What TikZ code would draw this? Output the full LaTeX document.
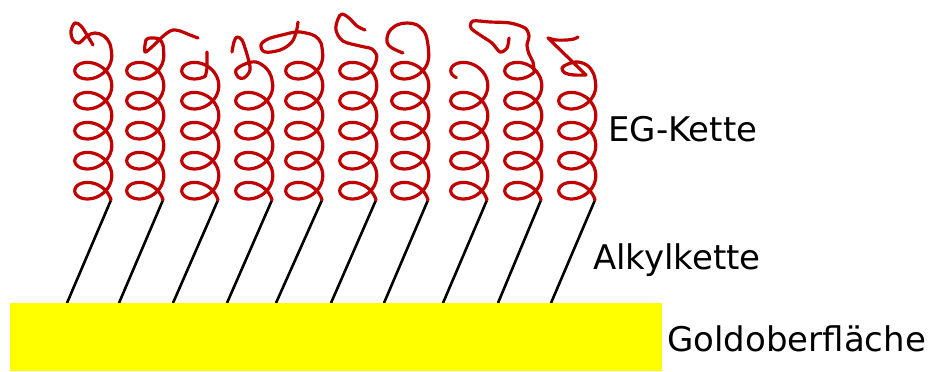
\documentclass[tikz,border=0pt]{standalone}
\usepackage{fontspec}
\setmainfont{DejaVu Sans}
\usepackage{tikz}
\usetikzlibrary{calc}
\usepackage{xcolor}
\def\pxLen{0.3mm}
\def\coilRad{18.5}
\def\coilDepth{15}
\def\coilPitch{4.775}
\def\coilStart{3.433}
\def\fScale{\fontsize{29}{34}\selectfont}
\definecolor{egred}{RGB}{192,0,0}
\definecolor{gold}{RGB}{255,255,0}
\tikzset{eg/.style={egred,line width=3.2*\pxLen,line cap=round,line join=round}}
\tikzset{alkyl/.style={black,line width=2.6*\pxLen}}
\tikzset{surf/.style={fill=gold,draw=none}}
\tikzset{lbl/.style={anchor=base west,inner sep=0,font=\fScale}}
\begin{document}
\begin{tikzpicture}[x=\pxLen,y=-\pxLen,
  declare function={coilx(\a,\t)=\a-\coilRad*cos(\t r)+\coilRad*cos(\coilStart r);
                    coily(\t)=200-\coilPitch*(\t-\coilStart)+\coilDepth*(sin(\t r)-sin(\coilStart r));}]
\useasboundingbox (0,0) rectangle (928,372);
% alkyl chains and EG helices
\foreach\i/\xb/\xt/\te in {1/67/111/34.5575,2/119/163/34.5575,3/173/218/33.2659,4/227/272/28.2743,5/276/322/34.5575,6/331/376/34.5575,7/384/428/34.5575,8/443/487/32.2159,9/498/541/33.6159,10/551/595/28.2743}{
  \coordinate (a\i) at (\xb,303);
  \coordinate (b\i) at (\xt,200);
  \draw[alkyl] (a\i)--(b\i);
  \draw[eg] plot[domain=\coilStart:\te,samples=300,smooth,variable=\t] ({coilx(\xt,\t)},{coily(\t)});
  \coordinate (c\i) at ({coilx(\xt,\te)},{coily(\te)});
}
% loose ends on top
\draw[eg] plot[smooth,tension=0.6] coordinates {(c1) (110,44) (104,36) (95,33) (87,36) (79,43) (73,40) (71,31) (75,23) (81,26) (87,35) (93,45)};
\draw[eg] plot[smooth,tension=0.5] coordinates {(c2) (163,45) (159,39) (151,38) (146,40) (145,52) (153,46) (160,39) (167,33) (173,30) (180,31) (190,35) (198,38)};
\draw[eg] plot[smooth,tension=0.5] coordinates {(c3) (207,68) (207,60) (207,52)};
\draw[eg] plot[smooth,tension=0.6] coordinates {(c4) (271,76) (266,68) (256,62) (245,64) (236,70) (238,77) (244,78) (250,70) (248,58) (245,48) (242,40) (237,37) (234,42) (232,52)};
\draw[eg] plot[smooth,tension=0.6] coordinates {(c5) (321,43) (315,36) (306,33) (296,32) (282,35) (268,39) (261,45) (265,52) (280,50) (291,43) (296,33) (298,22)};
\draw[eg] plot[smooth,tension=0.6] coordinates {(c6) (372,49) (360,46) (343,41) (336,30) (338,19) (342,14) (349,18) (357,26) (365,30)};
\draw[eg] plot[smooth,tension=0.6] coordinates {(c7) (428,45) (425,33) (417,25) (407,23) (397,25) (389,32) (387,42) (392,48) (403,53)};
\draw[eg] plot[smooth,tension=0.5] coordinates {(c9) (533,62) (529,54) (527,45) (529,36) (525,28) (510,23) (490,22) (473,21) (471,28) (480,35) (492,43) (500,52) (507,48) (509,38)};
\draw[eg] plot[smooth,tension=0.6] coordinates {(c10) (594,75) (588,66) (578,62) (568,64) (562,68) (565,73) (574,75) (586,75)} -- plot[smooth,tension=0.5] coordinates {(548,38) (556,40) (567,40) (574,39) (578,37)};
% gold surface
\node[surf,minimum width=652*\pxLen,minimum height=68*\pxLen,inner sep=0,anchor=north west] (gold) at (10,303) {};
\node[lbl] (egtxt) at (608,142) {EG-Kette};
\node[lbl] (alktxt) at (593,270) {Alkylkette};
\node[lbl] (goldtxt) at (667,352) {Goldoberfläche};
\end{tikzpicture}
\end{document}
